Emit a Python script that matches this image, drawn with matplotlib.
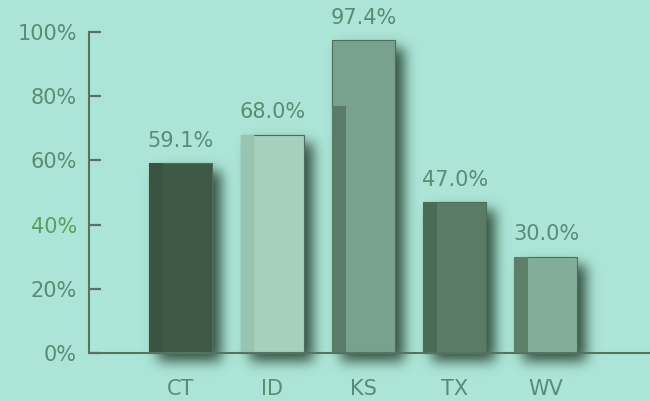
import numpy as np
import matplotlib.pyplot as plt
from matplotlib.patches import Rectangle

# data
states = ['CT', 'ID', 'KS', 'TX', 'WV']
values = [59.1, 68.0, 97.4, 47.0, 30.0]
value_labels = ['59.1%', '68.0%', '97.4%', '47.0%', '30.0%']
yticks = [0, 20, 40, 60, 80, 100]
ytick_labels = ['0%', '20%', '40%', '60%', '80%', '100%']

# looks
bg = '#ace5d7'
text_col = '#5b8a75'
axis_col = '#55735f'
face_cols = ['#3e5a47', '#a4d0bc', '#78a28d', '#5a7c67', '#82ae99']
strip_cols = ['#3a5443', '#98c4b0', '#5a7b67', '#4b6a57', '#5b7f69']
strip_tops = [59.1, 68.0, 77.0, 47.0, 30.0]
bar_w = 0.69
strip_w = 0.15

plt.rcParams['font.family'] = ['DejaVu Sans']

fig = plt.figure(figsize=(6.5, 4.01), dpi=100, facecolor=bg)
ax = fig.add_axes([89 / 650, 1 - 378.7 / 401, 1 - 89 / 650, (378.7 - 32) / 401])
ax.set_facecolor(bg)

x = np.arange(len(states))
xmin, xmax = -1.008, 5.14
ymin, ymax = -8, 100
ax.set_xlim(xmin, xmax)
ax.set_ylim(ymin, ymax)

# soft drop shadow: rasterised bar mask, shifted and blurred
W, H = 561, 347
px_x = (xmax - xmin) / W
px_y = (ymax - ymin) / H
gx = xmin + (np.arange(W) + 0.5) * px_x
gy = ymax - (np.arange(H) + 0.5) * px_y
mask = np.zeros((H, W))
dx, dy = 9 * px_x, 8 * px_y
for xi, v in zip(x, values):
    cols = (gx >= xi - bar_w / 2 + dx) & (gx <= xi + bar_w / 2 + dx)
    rows = (gy >= 0 - dy) & (gy <= v - dy)
    mask[np.ix_(rows, cols)] = 1.0
sigma = 6.5
k = np.arange(-20, 21)
kern = np.exp(-k ** 2 / (2 * sigma ** 2))
kern /= kern.sum()
blur = np.apply_along_axis(lambda r: np.convolve(r, kern, mode='same'), 1, mask)
blur = np.apply_along_axis(lambda c: np.convolve(c, kern, mode='same'), 0, blur)
rgba = np.zeros((H, W, 4))
rgba[..., 0] = 0x2c / 255
rgba[..., 1] = 0x48 / 255
rgba[..., 2] = 0x38 / 255
rgba[..., 3] = np.clip(blur * 0.95, 0, 1)
ax.imshow(rgba, extent=(xmin, xmax, ymin, ymax), aspect='auto', zorder=1,
          interpolation='bilinear')

# bars
ax.bar(x, values, width=bar_w, color=face_cols, edgecolor='#4e6d5b',
       linewidth=0.8, zorder=2)
for xi, st, sc in zip(x, strip_tops, strip_cols):
    ax.add_patch(Rectangle((xi - bar_w / 2, 0), strip_w, st, facecolor=sc,
                           edgecolor='none', zorder=3))

for xi, v, lab in zip(x, values, value_labels):
    ax.annotate(lab, (xi, v), xytext=(0, 9), textcoords='offset points',
                ha='center', va='bottom', fontsize=15, color=text_col)

# axes styling
for s in ['top', 'right']:
    ax.spines[s].set_visible(False)
ax.spines['bottom'].set_position(('data', 0))
ax.spines['left'].set_bounds(0, 100)
ax.spines['left'].set_color(axis_col)
ax.spines['bottom'].set_color(axis_col)
ax.spines['left'].set_linewidth(1.5)
ax.spines['bottom'].set_linewidth(1.5)
ax.spines['left'].set_zorder(4)
ax.spines['bottom'].set_zorder(4)

ax.set_yticks(yticks)
ax.set_yticklabels(ytick_labels)
ax.tick_params(axis='y', direction='in', length=8.6, width=1.6, color=axis_col,
               labelcolor=text_col, labelsize=15, pad=8.6)
ax.get_yticklabels()[2].set_color('#58a060')
ax.yaxis.get_major_ticks()[2].tick1line.set_color('#58a060')

ax.set_xticks(x)
ax.set_xticklabels(states)
ax.tick_params(axis='x', length=0, labelcolor=text_col, labelsize=15, pad=19)

fig.savefig('out.png', dpi=100, facecolor=bg)
